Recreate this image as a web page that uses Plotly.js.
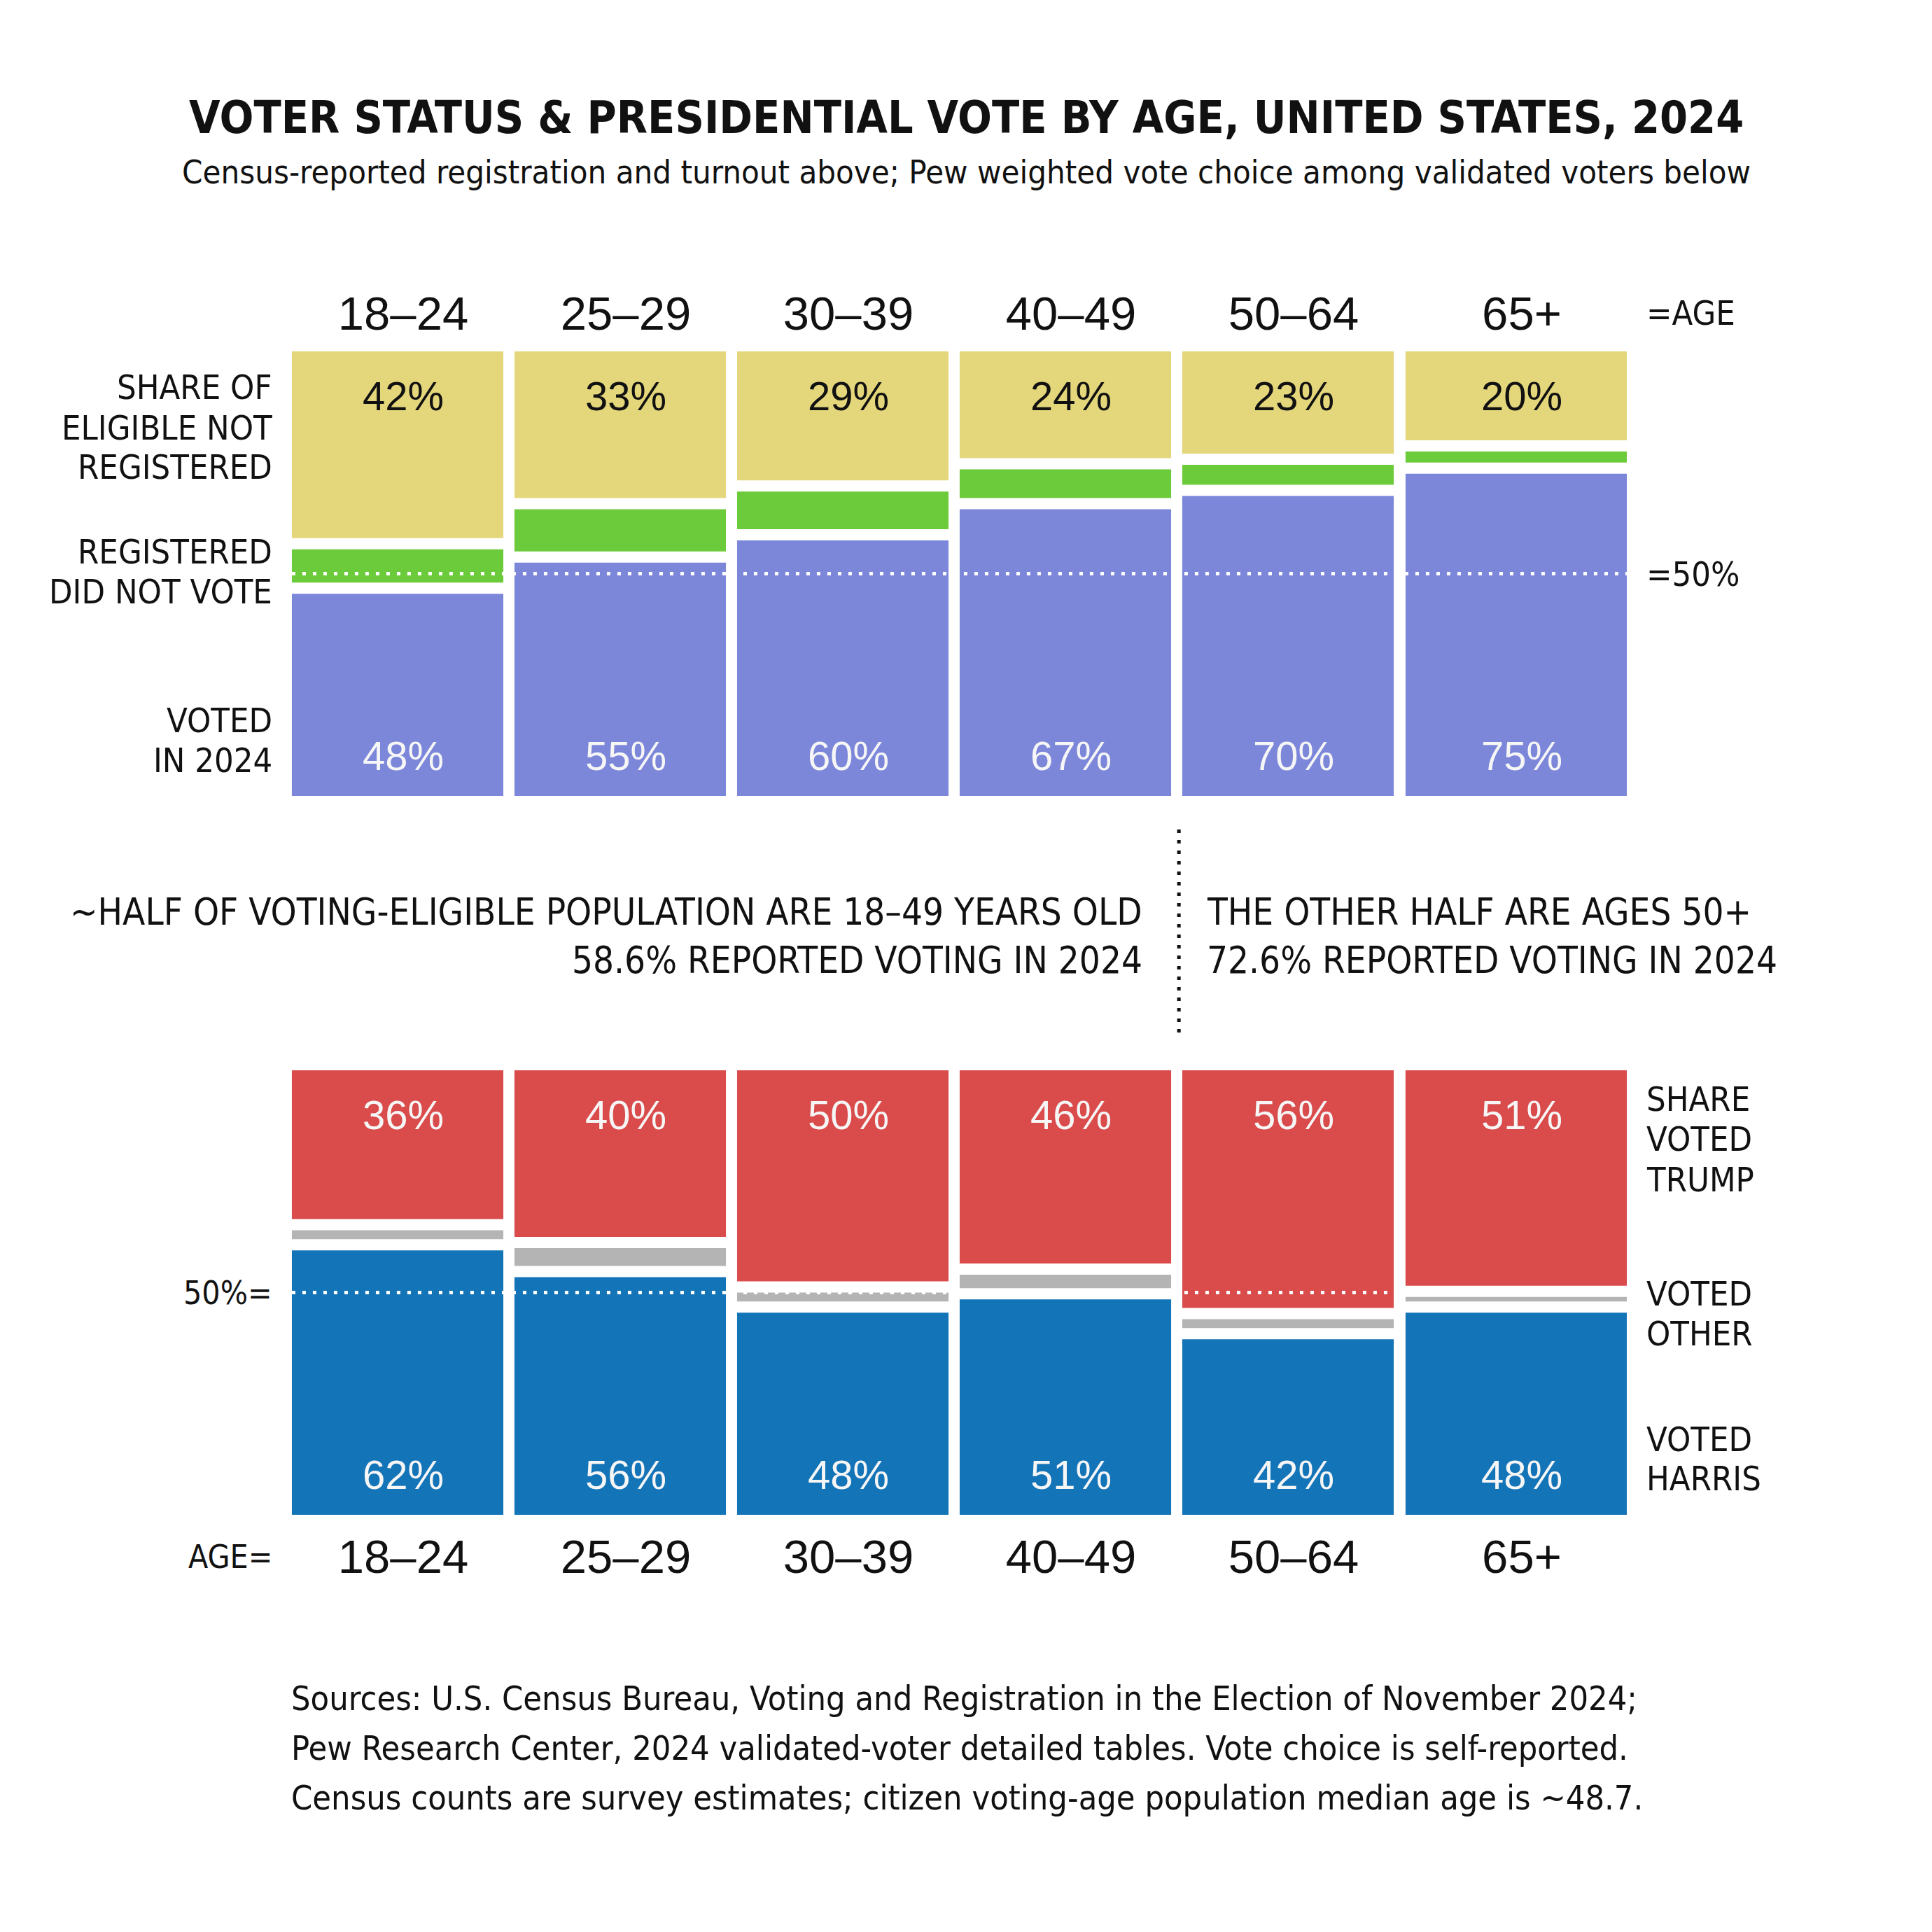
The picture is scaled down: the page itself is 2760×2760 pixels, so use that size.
<!DOCTYPE html>
<html>
<head>
<meta charset="utf-8">
<script src="https://cdn.plot.ly/plotly-3.0.1.min.js"></script>
<style>
html, body { margin: 0; padding: 0; background: #ffffff; }
#chart { width: 2760px; height: 2760px; }
</style>
</head>
<body>
<div id="chart"></div>
<script>
// ---------------- DATA ----------------
const ageGroups = ['18–24', '25–29', '30–39', '40–49', '50–64', '65+'];
// Census-reported status (share of eligible, %)
const notRegistered      = [42, 33, 29, 24, 23, 20];
const registeredNotVoted = [10, 12, 11, 9, 7, 5];
const votedIn2024        = [48, 55, 60, 67, 70, 75];
// Pew vote choice among validated voters (%)
const votedTrump  = [36, 40, 50, 46, 56, 51];
const votedOther  = [2, 4, 2, 3, 2, 1];
const votedHarris = [62, 56, 48, 51, 42, 48];

const titleText = 'VOTER STATUS &amp; PRESIDENTIAL VOTE BY AGE, UNITED STATES, 2024';
const subtitleText = 'Census-reported registration and turnout above; Pew weighted vote choice among validated voters below';
const youngerLines = ['~HALF OF VOTING-ELIGIBLE POPULATION ARE 18–49 YEARS OLD', '58.6% REPORTED VOTING IN 2024'];
const olderLines = ['THE OTHER HALF ARE AGES 50+', '72.6% REPORTED VOTING IN 2024'];
const sourceLines = [
  'Sources: U.S. Census Bureau, Voting and Registration in the Election of November 2024;',
  'Pew Research Center, 2024 validated-voter detailed tables. Vote choice is self-reported.',
  'Census counts are survey estimates; citizen voting-age population median age is ~48.7.'
];

// ---------------- LAYOUT HELPERS ----------------
const W = 2760;
const py = p => 1 - p / W;           // pixel row -> paper y
const X0 = 568, XU = 318;            // pixel of category 0, pixels per category
const xRange = [(0 - X0) / XU, (W - X0) / XU];
const PANEL_PX = 635;
const GAP = 16 / (PANEL_PX / 100);   // white gap between stacked pieces, in %
const LABEL_NUDGE = 8;               // horizontal nudge of labels centred on bars (px)

const NARROW = "'Liberation Sans Narrow', 'Arial Narrow', 'DejaVu Sans Condensed', sans-serif";
const SANS = "'Liberation Sans', Arial, sans-serif";
const INK = '#111111';
const ON_BAR = '#f6f6f6';

const C = {
  notReg: '#E4D67B', regNoVote: '#6CCB3A', voted: '#7C87DA',
  trump: '#DA4B4B', other: '#B4B4B4', harris: '#1474B8'
};

const idx = ageGroups.map((_, i) => i);
const barW = idx.map(i => (i === 5 ? 0.994 : 0.95));
const barOff = idx.map(i => (i === 5 ? -0.472 : -0.475));
const centers = idx.map(i => i + barOff[i] + barW[i] / 2);

function bar(name, xa, ya, base, y, color) {
  return {
    type: 'bar', name, x: idx, y, base, xaxis: xa, yaxis: ya,
    width: barW, offset: barOff,
    marker: { color, line: { width: 0 } },
    hoverinfo: 'skip', showlegend: false
  };
}

const traces = [
  // top panel
  bar('Voted in 2024', 'x', 'y', idx.map(() => 0), votedIn2024.map(v => v - GAP), C.voted),
  bar('Registered, did not vote', 'x', 'y', votedIn2024, registeredNotVoted.map(v => v - GAP), C.regNoVote),
  bar('Not registered', 'x', 'y', notRegistered.map(v => 100 - v), notRegistered, C.notReg),
  // bottom panel
  bar('Harris', 'x2', 'y2', idx.map(() => 0), votedHarris.map(v => v - GAP), C.harris),
  bar('Other', 'x2', 'y2', votedHarris, votedOther, C.other),
  bar('Trump', 'x2', 'y2', votedTrump.map(v => 100 - v + GAP), votedTrump.map(v => v - GAP), C.trump),
  // 50% reference dots
  {
    type: 'scatter', mode: 'lines', x: [-0.475, 5.522], y: [50, 50], xaxis: 'x', yaxis: 'y',
    line: { color: '#ffffff', width: 5, dash: '5px,10px' }, hoverinfo: 'skip', showlegend: false
  },
  {
    type: 'scatter', mode: 'lines', x: [-0.475, 5.522], y: [50, 50], xaxis: 'x2', yaxis: 'y2',
    line: { color: '#ffffff', width: 5, dash: '5px,10px' }, hoverinfo: 'skip', showlegend: false
  }
];

const annotations = [];
function txt(text, xpx, ypx, xanchor, size, family, opts) {
  annotations.push(Object.assign({
    text, xref: 'paper', yref: 'paper', x: xpx / W, y: py(ypx),
    xanchor, yanchor: 'middle', showarrow: false,
    font: { family, size, color: INK }
  }, opts || {}));
}

// Title & subtitle
txt('<b>' + titleText + '</b>', 1380, 168, 'center', 64, NARROW);
txt(subtitleText, 1380, 245, 'center', 46.9, NARROW);

// Top-left row labels
const LBL = 48.5;
[['SHARE OF', 553], ['ELIGIBLE NOT', 611], ['REGISTERED', 667],
 ['REGISTERED', 788], ['DID NOT VOTE', 845],
 ['VOTED', 1029], ['IN 2024', 1086]].forEach(([t, y]) => txt(t, 391, y, 'right', LBL, NARROW));
txt('=AGE', 2350, 447, 'left', LBL, NARROW);
annotations.push({ text: '=50%', xref: 'paper', yref: 'y', x: 2350 / W, y: 50, xanchor: 'left', yanchor: 'middle',
  showarrow: false, font: { family: NARROW, size: LBL, color: INK } });

// Middle statements
const MID = 52.5;
txt(youngerLines[0], 1634, 1302, 'right', MID, NARROW);
txt(youngerLines[1], 1634, 1372, 'right', MID, NARROW);
txt(olderLines[0], 1722, 1302, 'left', MID, NARROW);
txt(olderLines[1], 1722, 1372, 'left', MID, NARROW);

// Bottom panel labels
annotations.push({ text: '50%=', xref: 'paper', yref: 'y2', x: 391 / W, y: 50, xanchor: 'right', yanchor: 'middle',
  showarrow: false, font: { family: NARROW, size: 46, color: INK } });
txt('AGE=', 391, 2224, 'right', 46, NARROW);
[['SHARE', 1570], ['VOTED', 1627], ['TRUMP', 1685],
 ['VOTED', 1848], ['OTHER', 1905],
 ['VOTED', 2056], ['HARRIS', 2112]].forEach(([t, y]) => txt(t, 2350, y, 'left', LBL, NARROW));

// Sources
sourceLines.forEach((t, k) => txt(t, 414, 2426 + 71 * k, 'left', 48.3, NARROW));

// Value labels inside the bars
const PCT = 58;
function valueLabels(values, xa, ya, atTop, color) {
  values.forEach((v, i) => annotations.push({
    text: v + '%', xref: xa, yref: ya, x: centers[i], y: atTop ? 100 : 0,
    xshift: LABEL_NUDGE, yshift: atTop ? -63 : 58,
    xanchor: 'center', yanchor: 'middle', showarrow: false,
    font: { family: SANS, size: PCT, color }
  }));
}
valueLabels(notRegistered, 'x', 'y', true, INK);
valueLabels(votedIn2024, 'x', 'y', false, ON_BAR);
valueLabels(votedTrump, 'x2', 'y2', true, ON_BAR);
valueLabels(votedHarris, 'x2', 'y2', false, ON_BAR);

const axisX = {
  range: xRange, domain: [0, 1], tickvals: centers, ticktext: ageGroups,
  showgrid: false, zeroline: false, showline: false, ticks: '',
  ticklabelshift: LABEL_NUDGE,
  tickfont: { family: SANS, size: 67, color: INK }, fixedrange: true
};

const layout = {
  width: W, height: W,
  margin: { l: 0, r: 0, t: 0, b: 0, pad: 0 },
  paper_bgcolor: '#ffffff', plot_bgcolor: 'rgba(0,0,0,0)',
  barmode: 'overlay', showlegend: false,
  xaxis: Object.assign({}, axisX, { anchor: 'y', side: 'top', ticklabelstandoff: 17 }),
  xaxis2: Object.assign({}, axisX, { anchor: 'y2', side: 'bottom', matches: 'x', ticklabelstandoff: 15 }),
  yaxis: { domain: [py(1137), py(502)], range: [0, 100], visible: false, fixedrange: true },
  yaxis2: { domain: [py(2164), py(1529)], range: [0, 100], visible: false, fixedrange: true },
  shapes: [{
    type: 'line', xref: 'x', yref: 'paper', x0: 3.51, x1: 3.51, y0: py(1185), y1: py(1483),
    line: { color: INK, width: 5, dash: '5px,10px' }
  }],
  annotations
};

Plotly.newPlot('chart', traces, layout, { staticPlot: true, displayModeBar: false });
</script>
</body>
</html>
